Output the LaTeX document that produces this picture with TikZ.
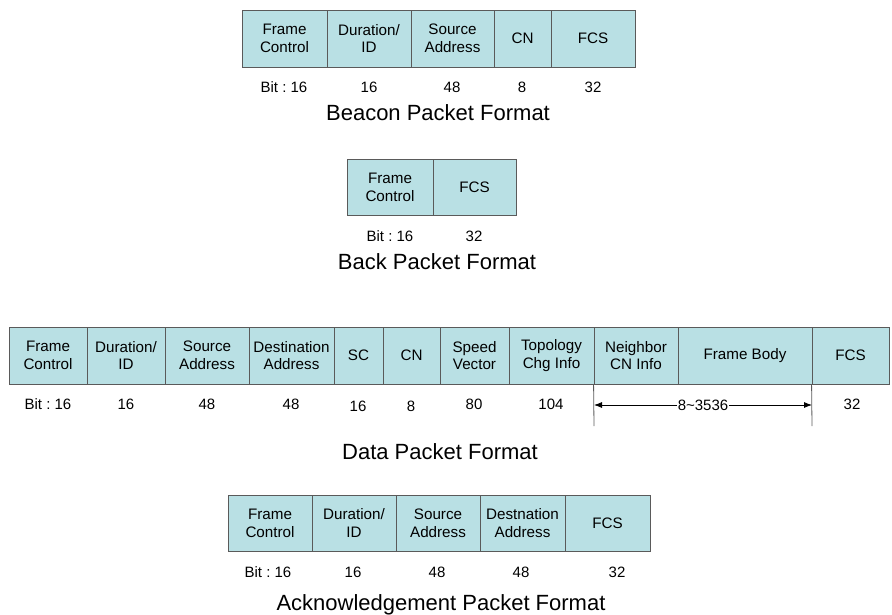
\documentclass[tikz,border=0pt]{standalone}
\usepackage{fontspec}
\setmainfont{Liberation Sans}
\usetikzlibrary{arrows.meta}
\definecolor{cellfill}{RGB}{185,224,228}
\definecolor{cellline}{RGB}{90,90,90}
% one field of a packet: name, left x, right x, top y, bottom y, text
\newcommand{\pktcell}[6]{%
  \node[cell, minimum width={#3-#2}, minimum height={#5-#4}] (#1) at ({(#2+#3)/2},{(#4+#5)/2}) {#6};}
\tikzset{
  cell/.style={draw=cellline, fill=cellfill, line width=0.85pt, inner sep=0pt,
    align=center, font=\fontsize{15.2}{17.8}\selectfont},
  bits/.style={inner sep=0pt, font=\fontsize{15}{18}\selectfont},
  caption/.style={inner sep=0pt, font=\fontsize{22}{26}\selectfont},
  guide/.style={draw=cellline, line width=0.8pt},
  span/.style={line width=0.8pt, {Latex[length=8pt,width=6pt]}-{Latex[length=8pt,width=6pt]}}
}
\begin{document}
\frenchspacing
\begin{tikzpicture}[x=1pt,y=-1pt]
\useasboundingbox (0,0) rectangle (892,614);

% Beacon packet
\pktcell{bfc}{242}{327}{10}{67}{Frame\\Control}
\pktcell{bdur}{327}{411}{10}{67}{Duration/\\ID}
\pktcell{bsrc}{411}{494}{10}{67}{Source\\Address}
\pktcell{bcn}{494}{551}{10}{67}{CN}
\pktcell{bfcs}{551}{635}{10}{67}{FCS}
\node[bits] (bb1) at (284,87) {Bit : 16};
\node[bits] (bb2) at (369,87) {16};
\node[bits] (bb3) at (452,87) {48};
\node[bits] (bb4) at (522,87) {8};
\node[bits] (bb5) at (593,87) {32};
\node[caption] (btitle) at (438,113) {Beacon Packet Format};

% Back packet
\pktcell{kfc}{347}{433}{159}{215}{Frame\\Control}
\pktcell{kfcs}{433}{516}{159}{215}{FCS}
\node[bits] (kb1) at (390,236) {Bit : 16};
\node[bits] (kb2) at (474,236) {32};
\node[caption] (ktitle) at (437,262) {Back Packet Format};

% Data packet
\pktcell{dfc}{9}{87}{327}{384}{Frame\\Control}
\pktcell{ddur}{87}{165}{327}{384}{Duration/\\ID}
\pktcell{dsrc}{165}{249}{327}{384}{Source\\Address}
\pktcell{ddst}{249}{334}{327}{384}{Destination\\Address}
\pktcell{dsc}{334}{383}{327}{384}{SC}
\pktcell{dcn}{383}{440}{327}{384}{CN}
\pktcell{dspd}{440}{509}{327}{384}{Speed\\Vector}
\pktcell{dtop}{509}{594}{327}{384}{Topology\\Chg Info}
\pktcell{dnb}{594}{678}{327}{384}{Neighbor\\CN Info}
\pktcell{dbody}{678}{812}{327}{384}{Frame Body}
\pktcell{dfcs}{812}{889}{327}{384}{FCS}
\node[bits] (db1) at (48,404) {Bit : 16};
\node[bits] (db2) at (126,404) {16};
\node[bits] (db3) at (207,404) {48};
\node[bits] (db4) at (291,404) {48};
\node[bits] (db5) at (358,406) {16};
\node[bits] (db6) at (411,406) {8};
\node[bits] (db7) at (474,404) {80};
\node[bits] (db8) at (551,404) {104};
\node[bits] (db9) at (852,404) {32};
\coordinate (gl) at (594,426);
\coordinate (gr) at (812,426);
\draw[guide] (dnb.south west) -- (gl);
\draw[guide] (dfcs.south west) -- (gr);
\coordinate (al) at (594,405);
\coordinate (ar) at (812,405);
\draw[span] (al) -- (ar);
\node[bits, fill=white, inner xsep=1pt, inner ysep=2pt] (dvar) at (703,405) {8\textasciitilde3536};
\node[caption] (dtitle) at (440,452) {Data Packet Format};

% Acknowledgement packet
\pktcell{afc}{228}{312}{495}{551}{Frame\\Control}
\pktcell{adur}{312}{396}{495}{551}{Duration/\\ID}
\pktcell{asrc}{396}{480}{495}{551}{Source\\Address}
\pktcell{adst}{480}{565}{495}{551}{Destnation\\Address}
\pktcell{afcs}{565}{650}{495}{551}{FCS}
\node[bits] (ab1) at (268,572) {Bit : 16};
\node[bits] (ab2) at (353,572) {16};
\node[bits] (ab3) at (437,572) {48};
\node[bits] (ab4) at (521,572) {48};
\node[bits] (ab5) at (617,572) {32};
\node[caption] (atitle) at (441,605) {Acknowledgement Packet Format};
\end{tikzpicture}
\end{document}
